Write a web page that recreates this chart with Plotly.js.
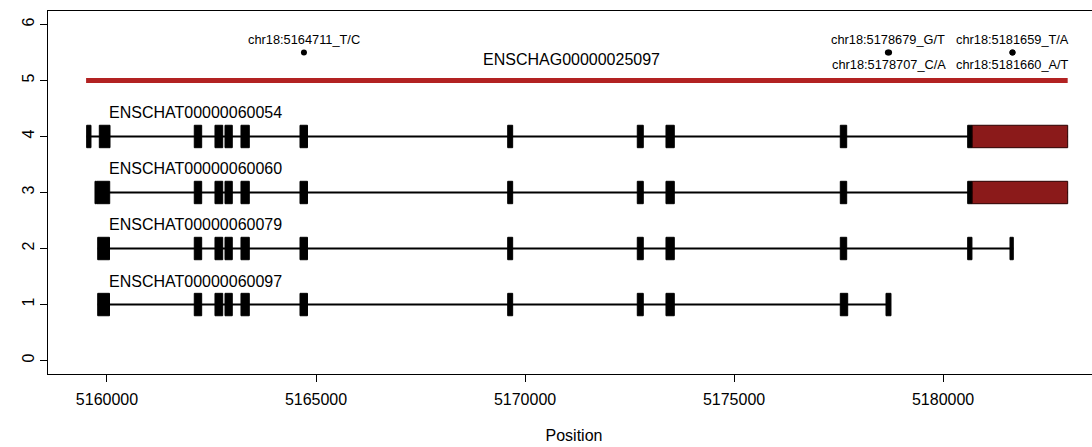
<!DOCTYPE html>
<html>
<head>
<meta charset="utf-8">
<script src="https://cdn.plot.ly/plotly-3.0.1.min.js"></script>
<style>
html,body{margin:0;padding:0;overflow:hidden;background:#fff;}
#chart{width:1102px;height:447px;}
</style>
</head>
<body>
<div id="chart"></div>
<script>
// ---- data ----
const geneName = "ENSCHAG00000025097";
const geneStart = 5159500;
const geneEnd = 5182980;
const geneY = 5;

const transcripts = ["ENSCHAT00000060054", "ENSCHAT00000060060", "ENSCHAT00000060079", "ENSCHAT00000060097"];
const transcriptY = [4, 3, 2, 1];

const exonStarts = [
  [5159514, 5159816, 5162088, 5162583, 5162823, 5163205, 5164617, 5169585, 5172685, 5173371, 5177541, 5180588],
  [5159713, 5159760, 5162088, 5162583, 5162823, 5163205, 5164617, 5169585, 5172685, 5173371, 5177541, 5180588],
  [5159778, 5162088, 5162583, 5162823, 5163205, 5164617, 5169585, 5172685, 5173371, 5177541, 5180588, 5181600],
  [5159778, 5162088, 5162583, 5162823, 5163205, 5164617, 5169585, 5172685, 5173371, 5177541, 5178634]
];
const exonEnds = [
  [5159617, 5160072, 5162265, 5162768, 5162997, 5163404, 5164796, 5169704, 5172828, 5173570, 5177694, 5180698],
  [5159750, 5160065, 5162265, 5162768, 5162997, 5163404, 5164796, 5169704, 5172828, 5173570, 5177694, 5180698],
  [5160060, 5162265, 5162768, 5162997, 5163404, 5164796, 5169704, 5172828, 5173570, 5177694, 5180690, 5181679],
  [5160060, 5162265, 5162768, 5162997, 5163404, 5164796, 5169704, 5172828, 5173570, 5177718, 5178753]
];
// highlighted (red) exon segments per transcript
const redStarts = [5180698, 5180698, null, null];
const redEnds   = [5182980, 5182980, null, null];

const snpPos = [5164711, 5178679, 5178707, 5181659, 5181660];
const snpLabels = ["chr18:5164711_T/C", "chr18:5178679_G/T", "chr18:5178707_C/A", "chr18:5181659_T/A", "chr18:5181660_A/T"];
const snpY = 5.5;
const snpLabelY = [5.74, 5.74, 5.29, 5.74, 5.29];

const xTicks = [5160000, 5165000, 5170000, 5175000, 5180000];
const yTicks = [0, 1, 2, 3, 4, 5, 6];

// ---- build ----
const exonHalf = 0.2;
const traces = [];
const shapes = [];
const annotations = [];

// gene line
traces.push({x:[geneStart, geneEnd], y:[geneY, geneY], mode:'lines',
  line:{color:'#B22222', width:5}, hoverinfo:'skip', showlegend:false});

transcripts.forEach((name, i) => {
  const y = transcriptY[i];
  const starts = exonStarts[i], ends = exonEnds[i];
  let lo = Math.min(...starts), hi = Math.max(...ends);
  if (redEnds[i] !== null) hi = Math.max(hi, redEnds[i]);
  traces.push({x:[lo, hi], y:[y, y], mode:'lines', line:{color:'#000', width:2},
    hoverinfo:'skip', showlegend:false});
  starts.forEach((s, k) => {
    shapes.push({type:'rect', xref:'x', yref:'y', x0:s, x1:ends[k], y0:y-exonHalf, y1:y+exonHalf,
      fillcolor:'#000', line:{color:'#000', width:1}, layer:'above'});
  });
  if (redStarts[i] !== null) {
    shapes.push({type:'rect', xref:'x', yref:'y', x0:redStarts[i], x1:redEnds[i], y0:y-exonHalf, y1:y+exonHalf,
      fillcolor:'#8B1A1A', line:{color:'#2a0000', width:1}, layer:'above'});
  }
  annotations.push({x:5160000, y:y+0.42, xref:'x', yref:'y', text:name, showarrow:false,
    xanchor:'left', yanchor:'middle', font:{size:16, color:'#000'}});
});

// SNPs
traces.push({x:snpPos, y:snpPos.map(() => snpY), mode:'markers',
  marker:{color:'#000', size:6}, hoverinfo:'skip', showlegend:false});
snpPos.forEach((p, k) => {
  annotations.push({x:p, y:snpLabelY[k], xref:'x', yref:'y', text:snpLabels[k], showarrow:false,
    xanchor:'center', yanchor:'middle', font:{size:12.8, color:'#000'}});
});

// gene name
annotations.push({x:(geneStart + geneEnd) / 2 - 120, y:5.37, xref:'x', yref:'y', text:geneName,
  showarrow:false, xanchor:'center', yanchor:'middle', font:{size:16, color:'#000'}});

const layout = {
  width:1102, height:447,
  margin:{l:48, r:2, t:11, b:73},
  paper_bgcolor:'#fff', plot_bgcolor:'#fff',
  font:{family:'"Liberation Sans", Arial, sans-serif', size:16, color:'#000'},
  showlegend:false,
  xaxis:{range:[5158589, 5183753], tickvals:xTicks, tickformat:'d', ticks:'outside', ticklen:7,
    tickcolor:'#000', showgrid:false, zeroline:false, showline:true, mirror:true, linecolor:'#000',
    linewidth:1, ticklabelstandoff:4, tickfont:{size:16},
    title:{text:'Position', font:{size:16}, standoff:22}},
  yaxis:{range:[-0.24, 6.24], tickvals:yTicks, ticks:'outside', ticklen:7, tickcolor:'#000',
    showgrid:false, zeroline:false, showline:true, mirror:true, linecolor:'#000', linewidth:1,
    tickangle:-90, tickfont:{size:16}},
  shapes:shapes,
  annotations:annotations
};

Plotly.newPlot('chart', traces, layout, {staticPlot:true, displayModeBar:false});
</script>
</body>
</html>
